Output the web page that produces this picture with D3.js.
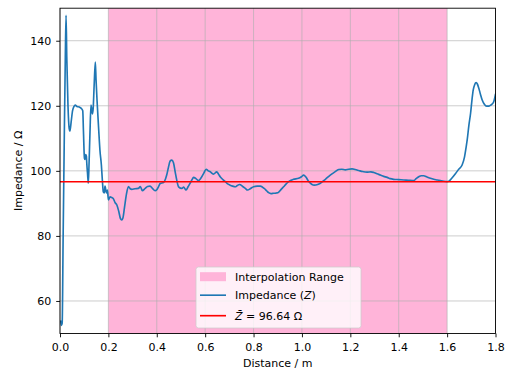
<!DOCTYPE html>
<html>
<head>
<meta charset="utf-8">
<script src="https://cdn.jsdelivr.net/npm/d3@7"></script>
<style>
  html, body { margin: 0; padding: 0; background: #fff; }
  svg { display: block; font-family: "DejaVu Sans", sans-serif; }
</style>
</head>
<body>
<svg id="chart" width="505" height="372"></svg>
<script>
// Impedance profile along the line (distance in m, impedance in ohm)
const distance = [0.003,0.006,0.009,0.013,0.018,0.022,0.025,0.028,0.033,0.038,0.041,0.046,0.052,0.058,0.063,0.07,0.08,0.088,0.094,0.097,0.101,0.104,0.106,0.109,0.111,0.114,0.117,0.12,0.124,0.128,0.131,0.134,0.137,0.141,0.146,0.149,0.153,0.16,0.165,0.171,0.175,0.179,0.183,0.186,0.192,0.196,0.2,0.207,0.214,0.22,0.228,0.235,0.243,0.25,0.255,0.26,0.267,0.275,0.283,0.29,0.297,0.31,0.324,0.332,0.34,0.352,0.362,0.372,0.383,0.393,0.4,0.407,0.414,0.428,0.436,0.441,0.448,0.455,0.462,0.469,0.476,0.483,0.49,0.504,0.511,0.521,0.53,0.538,0.545,0.552,0.562,0.572,0.58,0.586,0.595,0.604,0.613,0.621,0.634,0.648,0.655,0.662,0.672,0.683,0.693,0.703,0.714,0.724,0.733,0.742,0.755,0.766,0.775,0.788,0.8,0.815,0.828,0.844,0.855,0.862,0.872,0.883,0.895,0.903,0.914,0.924,0.935,0.945,0.965,0.986,0.998,1.007,1.017,1.028,1.04,1.051,1.065,1.076,1.087,1.097,1.117,1.135,1.152,1.165,1.179,1.193,1.207,1.22,1.235,1.25,1.269,1.285,1.297,1.31,1.324,1.338,1.352,1.365,1.379,1.4,1.421,1.44,1.462,1.472,1.483,1.493,1.503,1.517,1.531,1.545,1.559,1.572,1.586,1.6,1.607,1.62,1.635,1.648,1.662,1.672,1.678,1.683,1.69,1.697,1.703,1.708,1.714,1.72,1.725,1.731,1.738,1.745,1.754,1.763,1.772,1.78,1.787,1.793,1.8];
const impedance = [53.8,52.5,53.2,80,112,135,147.8,135,120,113,112.2,115,118.5,119.8,120.2,119.8,119.6,119.2,118.5,112,103.9,103.5,105,104.5,102,99,96.2,102,112,120.2,119,117.5,119,126,133.4,128,121.8,112.6,106.4,101.8,97.2,93.5,93.2,95.3,93.2,94.1,91.1,92,91.8,91.5,90.2,89.5,87.5,85.3,84.9,85.5,89,93,95.2,94.5,94.3,94.5,94.6,95.2,93.9,94.6,95.2,95.3,94.5,93.9,94.2,95.1,96.1,96.4,97.5,98.7,101,103,103.3,102.5,99.7,97,95.1,94.6,95,94.1,95.2,96.2,97.2,98,97.6,97,97.5,98.2,99.4,100.5,100,99.7,99,99.7,99,98.2,97.4,96.7,96,95.6,95.3,95.1,95.5,95.8,95.2,94.6,94.1,94.6,95.1,95.3,95.3,94.6,93.8,93.3,93,93.1,93.2,93.4,94.3,95.1,96,96.7,97.4,97.7,98.2,98.7,98,96.7,95.9,95.6,95.8,96.2,96.8,97.4,98.7,99.6,100.4,100.5,100.3,100.5,100.6,100.4,100.1,99.8,99.6,99.7,99.5,99.1,98.7,98.3,98,97.6,97.4,97.3,97.2,97.1,97,97.6,98.2,98.5,98.5,98.1,97.7,97.4,97.2,97,96.8,96.7,96.8,97.8,99.2,100.5,101.8,104.3,107,109.5,114,117.7,122,124.9,126.5,127.1,126.7,125.4,123.5,121.8,120.5,119.9,119.9,120.2,120.6,121.3,123.6];

const interpolationRange = [0.2, 1.6];
const meanImpedance = 96.64;

const xTicks = [0, 0.2, 0.4, 0.6, 0.8, 1.0, 1.2, 1.4, 1.6, 1.8];
const yTicks = [60, 80, 100, 120, 140];
const xDomain = [0, 1.8];
const yDomain = [50, 150];

const legendLabels = ["Interpolation Range", "Impedance (Z)", "Z\u0304 = 96.64 \u03A9"];

const margin = { left: 60, right: 9.5, top: 8.2, bottom: 38.5 };
const W = 505, H = 372;
const FS = 11;
const svg = d3.select("#chart");

const x = d3.scaleLinear().domain(xDomain).range([margin.left, W - margin.right]);
const y = d3.scaleLinear().domain(yDomain).range([H - margin.bottom, margin.top]);

const spanFill = "#ffb4d9";
const blue = "#1f77b4";
const LW = 1.65;

// shaded interpolation range
svg.append("rect")
  .attr("x", x(interpolationRange[0]))
  .attr("y", y(yDomain[1]))
  .attr("width", x(interpolationRange[1]) - x(interpolationRange[0]))
  .attr("height", y(yDomain[0]) - y(yDomain[1]))
  .attr("fill", spanFill);

// grid
const grid = svg.append("g").attr("stroke", "#b0b0b0").attr("stroke-opacity", 0.7).attr("stroke-width", 0.9);
grid.selectAll("line.gx").data(xTicks).join("line")
  .attr("x1", d => x(d)).attr("x2", d => x(d))
  .attr("y1", y(yDomain[0])).attr("y2", y(yDomain[1]));
grid.selectAll("line.gy").data(yTicks).join("line")
  .attr("x1", x(xDomain[0])).attr("x2", x(xDomain[1]))
  .attr("y1", d => y(d)).attr("y2", d => y(d));

// clip for data
svg.append("clipPath").attr("id", "plotclip").append("rect")
  .attr("x", x(xDomain[0])).attr("y", y(yDomain[1]))
  .attr("width", x(xDomain[1]) - x(xDomain[0]))
  .attr("height", y(yDomain[0]) - y(yDomain[1]));

const points = distance.map((d, i) => [d, impedance[i]]);
const line = d3.line().x(d => x(d[0])).y(d => y(d[1])).curve(d3.curveMonotoneX);

svg.append("path")
  .attr("clip-path", "url(#plotclip)")
  .attr("d", line(points))
  .attr("fill", "none")
  .attr("stroke", blue)
  .attr("stroke-width", LW)
  .attr("stroke-linejoin", "round")
  .attr("stroke-linecap", "round");

// mean impedance
svg.append("line")
  .attr("x1", x(xDomain[0])).attr("x2", x(xDomain[1]))
  .attr("y1", y(meanImpedance)).attr("y2", y(meanImpedance))
  .attr("stroke", "red").attr("stroke-width", LW);

// axes
const xAxis = d3.axisBottom(x).tickValues(xTicks).tickFormat(d3.format(".1f")).tickSizeOuter(0).tickSize(3.8).tickPadding(6);
const yAxis = d3.axisLeft(y).tickValues(yTicks).tickFormat(d3.format("d")).tickSizeOuter(0).tickSize(3.8).tickPadding(5);

const gx = svg.append("g").attr("transform", `translate(0,${y(yDomain[0])})`).call(xAxis);
const gy = svg.append("g").attr("transform", `translate(${x(xDomain[0])},0)`).call(yAxis);
[gx, gy].forEach(g => {
  g.select(".domain").remove();
  g.selectAll(".tick line").attr("stroke", "#000").attr("stroke-width", 0.9);
  g.selectAll(".tick text").attr("font-size", FS).attr("fill", "#000").attr("font-family", "DejaVu Sans");
});

// frame
svg.append("rect")
  .attr("x", x(xDomain[0])).attr("y", y(yDomain[1]))
  .attr("width", x(xDomain[1]) - x(xDomain[0]))
  .attr("height", y(yDomain[0]) - y(yDomain[1]))
  .attr("fill", "none").attr("stroke", "#000").attr("stroke-width", 0.9);

// axis titles
svg.append("text")
  .attr("x", (x(xDomain[0]) + x(xDomain[1])) / 2).attr("y", 367)
  .attr("text-anchor", "middle").attr("font-size", FS).text("Distance / m");
svg.append("text")
  .attr("transform", `translate(21.5,${(y(yDomain[0]) + y(yDomain[1])) / 2}) rotate(-90)`)
  .attr("text-anchor", "middle").attr("font-size", FS).text("Impedance / \u03A9");

// legend
const lg = svg.append("g").attr("transform", "translate(196,267)");
lg.append("rect")
  .attr("width", 165).attr("height", 61).attr("rx", 2.5)
  .attr("fill", "#fff").attr("fill-opacity", 0.8)
  .attr("stroke", "#cccccc").attr("stroke-opacity", 0.8).attr("stroke-width", 0.9);

const rowY = [9.7, 28.2, 48.7];
lg.append("rect").attr("x", 4).attr("y", rowY[0] - 4.5).attr("width", 26).attr("height", 9).attr("fill", spanFill);
lg.append("line").attr("x1", 4).attr("x2", 30).attr("y1", rowY[1]).attr("y2", rowY[1]).attr("stroke", blue).attr("stroke-width", LW);
lg.append("line").attr("x1", 4).attr("x2", 30).attr("y1", rowY[2]).attr("y2", rowY[2]).attr("stroke", "red").attr("stroke-width", LW);

const t0 = lg.append("text").attr("x", 39).attr("y", rowY[0] + 4).attr("font-size", FS).text(legendLabels[0]);
const t1 = lg.append("text").attr("x", 39).attr("y", rowY[1] + 4).attr("font-size", FS);
t1.append("tspan").text("Impedance (");
t1.append("tspan").attr("font-style", "italic").text("Z");
t1.append("tspan").text(")");
const t2 = lg.append("text").attr("x", 39).attr("y", rowY[2] + 4).attr("font-size", FS);
t2.append("tspan").attr("font-style", "italic").text("Z\u0304");
t2.append("tspan").text(" = 96.64 \u03A9");
</script>
</body>
</html>
